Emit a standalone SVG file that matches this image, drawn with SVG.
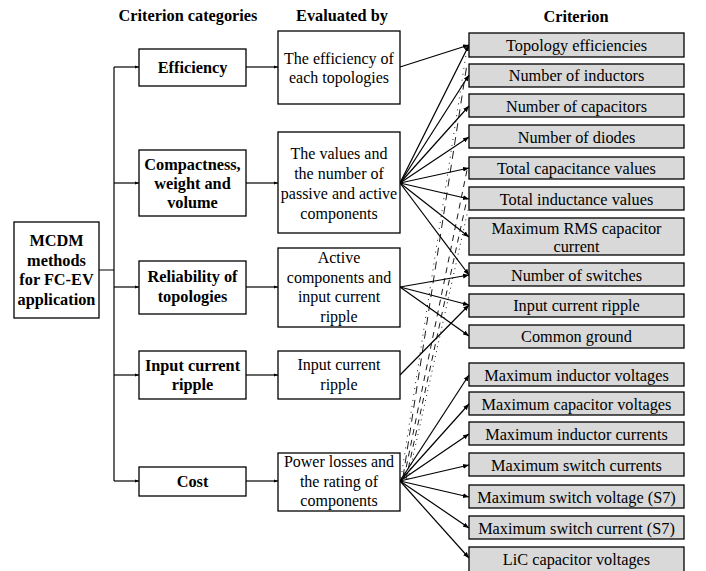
<svg xmlns="http://www.w3.org/2000/svg" width="706" height="571" viewBox="0 0 706 571" font-family="Liberation Serif, Times New Roman, serif">
<defs>
<marker id="ah" viewBox="0 0 10 10" refX="10" refY="5" markerWidth="6" markerHeight="6" markerUnits="userSpaceOnUse" orient="auto">
<path d="M0,1 L10,5 L0,9 Z" fill="#000"/>
</marker>
<marker id="as" viewBox="0 0 10 10" refX="10" refY="5" markerWidth="4" markerHeight="4" markerUnits="userSpaceOnUse" orient="auto">
<path d="M0,1 L10,5 L0,9 Z" fill="#000"/>
</marker>
</defs>
<style>
.h{font-size:16.3px;font-weight:bold;text-anchor:middle}
.b{font-size:16.3px;font-weight:bold;text-anchor:middle}
.r{font-size:16px;text-anchor:middle}
.c{font-size:16.3px;text-anchor:middle}
.box{fill:#fff;stroke:#000;stroke-width:1.3}
.crit{fill:#d9d9d9;stroke:#000;stroke-width:1.3}
.ln{fill:none;stroke:#000;stroke-width:1.2}
.ar{fill:none;stroke:#000;stroke-width:1.2;marker-end:url(#ah)}
.sa{fill:none;stroke:#000;stroke-width:1.2;marker-end:url(#as)}
.dd{fill:none;stroke:#000;stroke-width:0.9}
</style>
<rect width="706" height="571" fill="#fff"/>
<g id="headers">
<text class="h" x="188" y="21">Criterion categories</text>
<text class="h" x="342" y="21">Evaluated by</text>
<text class="h" x="576" y="22">Criterion</text>
</g>
<g id="connectors">
<path class="ln" d="M99,270 H114 M114,67 V481"/>
<path class="sa" d="M114,67 H139"/>
<path class="sa" d="M114,183 H139"/>
<path class="sa" d="M114,287 H139"/>
<path class="sa" d="M114,375 H139"/>
<path class="sa" d="M114,481 H139"/>
<path class="sa" d="M246,67 H278"/>
<path class="sa" d="M246,183 H278"/>
<path class="sa" d="M246,287 H278"/>
<path class="sa" d="M246,375 H278"/>
<path class="sa" d="M246,481 H278"/>
<path class="ar" d="M400,67 L469,45"/>
<path class="ar" d="M400,183 L469,45"/>
<path class="ar" d="M400,183 L469,75"/>
<path class="ar" d="M400,183 L469,106"/>
<path class="ar" d="M400,183 L469,137"/>
<path class="ar" d="M400,183 L469,168"/>
<path class="ar" d="M400,183 L469,199"/>
<path class="ar" d="M400,183 L469,237"/>
<path class="ar" d="M400,183 L469,275"/>
<path class="ar" d="M400,287 L469,275"/>
<path class="ar" d="M400,287 L469,305"/>
<path class="ar" d="M400,287 L469,336"/>
<path class="ar" d="M400,375 L469,305"/>
<path class="ar" d="M400,481 L469,375"/>
<path class="ar" d="M400,481 L469,404"/>
<path class="ar" d="M400,481 L469,434"/>
<path class="ar" d="M400,481 L469,465"/>
<path class="ar" d="M400,481 L469,497"/>
<path class="ar" d="M400,481 L469,528"/>
<path class="ar" d="M400,481 L469,558"/>
<path class="dd" stroke-dasharray="1 5" d="M401,478 L467,48"/>
<path class="dd" stroke-dasharray="8 6" d="M403,477 L467,64"/>
<path class="dd" stroke-dasharray="6 5" d="M404,478 L467,170"/>
<path class="dd" stroke-dasharray="6 5" d="M406,479 L467,199"/>
<path class="dd" stroke-dasharray="1 4" d="M408,479 L468,210"/>
</g>
<g id="n-mcdm">
<rect class="box" x="14" y="222" width="85" height="96"/>
<text class="b" x="56.5" y="246">MCDM</text>
<text class="b" x="56.5" y="265.5">methods</text>
<text class="b" x="56.5" y="285">for FC-EV</text>
<text class="b" x="56.5" y="304.5">application</text>
</g>
<g id="n-efficiency">
<rect class="box" x="139" y="49" width="107" height="37"/>
<text class="b" x="192.5" y="73">Efficiency</text>
</g>
<g id="n-compactness">
<rect class="box" x="139" y="150" width="107" height="66"/>
<text class="b" x="192.5" y="170">Compactness,</text>
<text class="b" x="192.5" y="189">weight and</text>
<text class="b" x="192.5" y="208">volume</text>
</g>
<g id="n-reliability">
<rect class="box" x="139" y="261" width="107" height="53"/>
<text class="b" x="192.5" y="282">Reliability of</text>
<text class="b" x="192.5" y="302">topologies</text>
</g>
<g id="n-ripple">
<rect class="box" x="139" y="351" width="107" height="48"/>
<text class="b" x="192.5" y="371">Input current</text>
<text class="b" x="192.5" y="390">ripple</text>
</g>
<g id="n-cost">
<rect class="box" x="139" y="467" width="107" height="29"/>
<text class="b" x="192.5" y="487">Cost</text>
</g>
<g id="e-efficiency">
<rect class="box" x="278" y="31" width="122" height="73"/>
<text class="r" x="339" y="64">The efficiency of</text>
<text class="r" x="339" y="83">each topologies</text>
</g>
<g id="e-values">
<rect class="box" x="278" y="132" width="122" height="101"/>
<text class="r" x="339" y="159">The values and</text>
<text class="r" x="339" y="179">the number of</text>
<text class="r" x="339" y="199">passive and active</text>
<text class="r" x="339" y="219">components</text>
</g>
<g id="e-active">
<rect class="box" x="278" y="248" width="122" height="79"/>
<text class="r" x="339" y="263">Active</text>
<text class="r" x="339" y="283">components and</text>
<text class="r" x="339" y="302">input current</text>
<text class="r" x="339" y="322">ripple</text>
</g>
<g id="e-ripple">
<rect class="box" x="278" y="351" width="122" height="48"/>
<text class="r" x="339" y="370">Input current</text>
<text class="r" x="339" y="390">ripple</text>
</g>
<g id="e-power">
<rect class="box" x="278" y="453" width="122" height="58"/>
<text class="r" x="339" y="467">Power losses and</text>
<text class="r" x="339" y="487">the rating of</text>
<text class="r" x="339" y="506">components</text>
</g>
<g id="c1"><rect class="crit" x="469" y="33" width="215" height="24"/><text class="c" x="576.5" y="50.5">Topology efficiencies</text></g>
<g id="c2"><rect class="crit" x="469" y="64" width="215" height="23"/><text class="c" x="576.5" y="81">Number of inductors</text></g>
<g id="c3"><rect class="crit" x="469" y="94" width="215" height="23"/><text class="c" x="576.5" y="111.5">Number of capacitors</text></g>
<g id="c4"><rect class="crit" x="469" y="125" width="215" height="23"/><text class="c" x="576.5" y="142.5">Number of diodes</text></g>
<g id="c5"><rect class="crit" x="469" y="157" width="215" height="22"/><text class="c" x="576.5" y="173.5">Total capacitance values</text></g>
<g id="c6"><rect class="crit" x="469" y="187" width="215" height="23"/><text class="c" x="576.5" y="204.5">Total inductance values</text></g>
<g id="c7"><rect class="crit" x="469" y="218" width="215" height="37"/><text class="c" x="576.5" y="233.5">Maximum RMS capacitor</text><text class="c" x="576.5" y="252">current</text></g>
<g id="c8"><rect class="crit" x="469" y="263" width="215" height="23"/><text class="c" x="576.5" y="280.5">Number of switches</text></g>
<g id="c9"><rect class="crit" x="469" y="294" width="215" height="23"/><text class="c" x="576.5" y="311">Input current ripple</text></g>
<g id="c10"><rect class="crit" x="469" y="325" width="215" height="23"/><text class="c" x="576.5" y="342">Common ground</text></g>
<g id="c11"><rect class="crit" x="469" y="363" width="215" height="23"/><text class="c" x="576.5" y="380.5">Maximum inductor voltages</text></g>
<g id="c12"><rect class="crit" x="469" y="392" width="215" height="23"/><text class="c" x="576.5" y="409.5">Maximum capacitor voltages</text></g>
<g id="c13"><rect class="crit" x="469" y="422" width="215" height="23"/><text class="c" x="576.5" y="439.5">Maximum inductor currents</text></g>
<g id="c14"><rect class="crit" x="469" y="453" width="215" height="23"/><text class="c" x="576.5" y="470.5">Maximum switch currents</text></g>
<g id="c15"><rect class="crit" x="469" y="485" width="215" height="23"/><text class="c" x="576.5" y="502.5">Maximum switch voltage (S7)</text></g>
<g id="c16"><rect class="crit" x="469" y="516" width="215" height="23"/><text class="c" x="576.5" y="533.5">Maximum switch current (S7)</text></g>
<g id="c17"><rect class="crit" x="469" y="547" width="215" height="26"/><text class="c" x="576.5" y="565">LiC capacitor voltages</text></g>
</svg>
